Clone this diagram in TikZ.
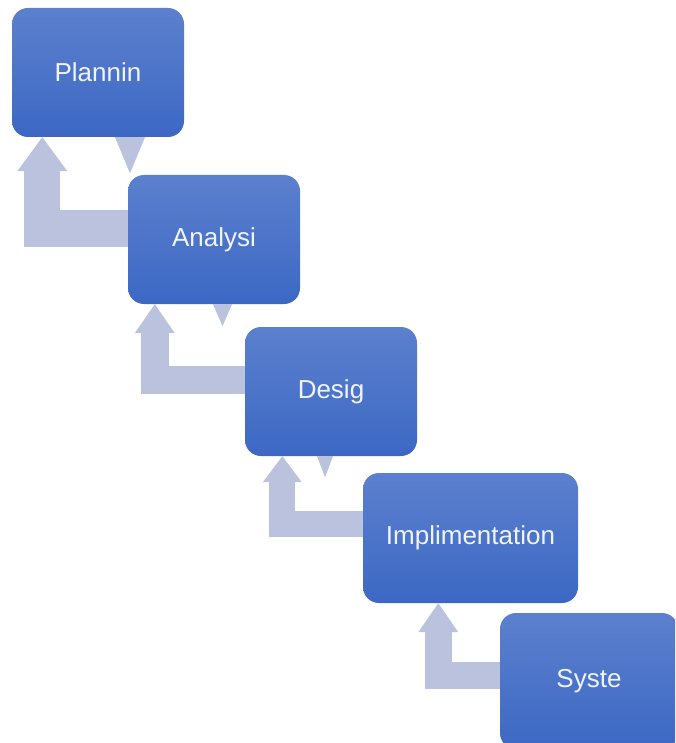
\documentclass[tikz,border=0pt]{standalone}
\usepackage{fontspec}
\setmainfont{Liberation Sans}
\usepackage{tikz}
\usetikzlibrary{arrows.meta}

\definecolor{stagetop}{RGB}{92,128,206}
\definecolor{stagebottom}{RGB}{60,104,196}
\definecolor{arrowgray}{RGB}{186,194,222}
\definecolor{stagetext}{RGB}{240,244,255}

\tikzset{
  stage/.style={rectangle, rounded corners=16pt, minimum width=172pt, minimum height=129pt,
    top color=stagetop, bottom color=stagebottom, text=stagetext, inner sep=0pt,
    font=\fontsize{26}{31}\selectfont},
  back/.style n args={3}{draw=arrowgray, line join=miter, line width=#1,
    -{Triangle[width=#2, length=#3, line width=0pt]}},
  fwd/.style 2 args={draw=arrowgray, line width=0.1pt,
    -{Triangle[width=#1, length=#2, line width=0pt]}}
}

\begin{document}
\begin{tikzpicture}[x=1pt, y=-1pt]
\clip (0,0) rectangle (675,743);
\useasboundingbox (0,0) rectangle (675,743);
% the stages
\node[stage] (plan) at (98,72.5) {Plannin};
\node[stage] (ana) at (214,239.5) {Analysi};
\node[stage] (des) at (331,391.5) {Desig};
\node[stage, minimum width=215pt, minimum height=130pt] (impl) at (470.5,538) {Implimentation};
\node[stage, minimum width=178pt, minimum height=136pt] (sys) at (589,681) {Syste};
% going back
\draw[back={36pt}{50pt}{34pt}] ([yshift=11pt]ana.west) -| ([xshift=30.5pt]plan.south west);
\draw[back={28pt}{40pt}{29pt}] ([yshift=11.5pt]des.west) -| ([xshift=27pt]ana.south west);
\draw[back={26pt}{39pt}{26pt}] ([yshift=14pt]impl.west) -| ([xshift=37.5pt]des.south west);
\draw[back={27pt}{40pt}{29pt}] ([yshift=6pt]sys.west) -| ([xshift=75.5pt]impl.south west);
% going forward
\draw[fwd={30pt}{36pt}] ([xshift=32pt]plan.south) -- ++(0pt,-36pt);
\draw[fwd={19pt}{22pt}] ([xshift=8.5pt]ana.south) -- ++(0pt,-22pt);
\draw[fwd={16pt}{21pt}] ([xshift=-6pt]des.south) -- ++(0pt,-21pt);
\end{tikzpicture}
\end{document}
